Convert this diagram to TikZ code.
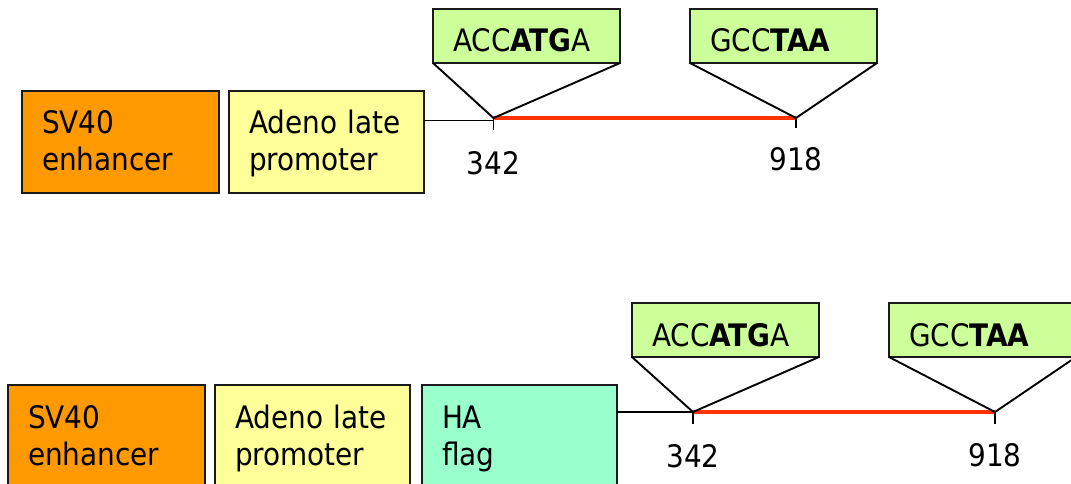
\documentclass[tikz,border=0pt]{standalone}
\usepackage{fontspec}
\setmainfont{DejaVu Sans Condensed}
\definecolor{orng}{HTML}{FF9900}
\definecolor{ylw}{HTML}{FFFF99}
\definecolor{lgrn}{HTML}{CCFF99}
\definecolor{aqua}{HTML}{99FFCC}
\definecolor{redl}{HTML}{FF3300}
\definecolor{edge}{HTML}{1A1A1A}
\tikzset{
  blk/.style={draw=edge, line width=2.2pt, anchor=north west, outer sep=0pt,
    inner xsep=20pt, inner ysep=0pt, align=left, minimum height=102pt,
    font=\fontsize{31}{37}\selectfont, text height=25pt, text depth=41pt},
  seqbox/.style={draw=edge, line width=2pt, fill=lgrn, anchor=north west, outer sep=0pt,
    inner xsep=20pt, inner ysep=0pt, align=left, minimum height=54pt,
    text width=147pt, font=\fontsize{31}{37}\selectfont, text height=32pt, text depth=0pt},
  conn/.style={line width=1.9pt, black},
  orf/.style={line width=3.2pt, redl},
  tick/.style={line width=1.9pt, black},
  num/.style={anchor=base, font=\fontsize{31}{37}\selectfont, inner sep=0pt}
}
\begin{document}
\begin{tikzpicture}[x=1pt,y=-1pt]
\useasboundingbox (0,0) rectangle (1071,484);
\clip (0,0) rectangle (1071,484);
\fill[white] (0,0) rectangle (1071,484);
% ---------- top construct ----------
\node[blk, fill=orng, text width=157pt] (sv1) at (22,91) {SV40\\enhancer};
\node[blk, fill=ylw, text width=155pt] (ad1) at (229,91) {Adeno late\\promoter};
\coordinate (s1) at (493.5,118);
\coordinate (e1) at (796,118);
\node[seqbox] (atg1) at (433,9) {ACC\textbf{ATG}A};
\node[seqbox] (taa1) at (690,9) {GCC\textbf{TAA}};
\draw[conn] (ad1.north east |- 0,120.5) -- (s1 |- 0,120.5);
\draw[orf] (s1) -- (e1);
\draw[tick] (s1) -- ++(0,12);
\draw[tick] (e1) -- ++(0,10);
\draw[conn] (atg1.south west) -- (s1) -- (atg1.south east);
\draw[conn] (taa1.south west) -- (e1) -- (taa1.south east);
\node[num] (n342a) at (493.5,175) {342};
\node[num] (n918a) at (796,171) {918};
% ---------- bottom construct ----------
\node[blk, fill=orng, text width=157pt] (sv2) at (8,385) {SV40\\enhancer};
\node[blk, fill=ylw, text width=155pt] (ad2) at (215,385) {Adeno late\\promoter};
\node[blk, fill=aqua, text width=155pt] (ha2) at (422,385) {HA\\flag};
\coordinate (s2) at (693,412);
\coordinate (e2) at (995,412);
\node[seqbox] (atg2) at (632,303) {ACC\textbf{ATG}A};
\node[seqbox] (taa2) at (889,303) {GCC\textbf{TAA}};
\draw[conn] (ha2.north east |- s2) -- (s2);
\draw[orf] (s2) -- (e2);
\draw[tick] (s2) -- ++(0,12);
\draw[tick] (e2) -- ++(0,12);
\draw[conn] (atg2.south west) -- (s2) -- (atg2.south east);
\draw[conn] (taa2.south west) -- (e2) -- (taa2.south east);
\node[num] (n342b) at (693,467) {342};
\node[num] (n918b) at (995,466) {918};
\end{tikzpicture}
\end{document}
